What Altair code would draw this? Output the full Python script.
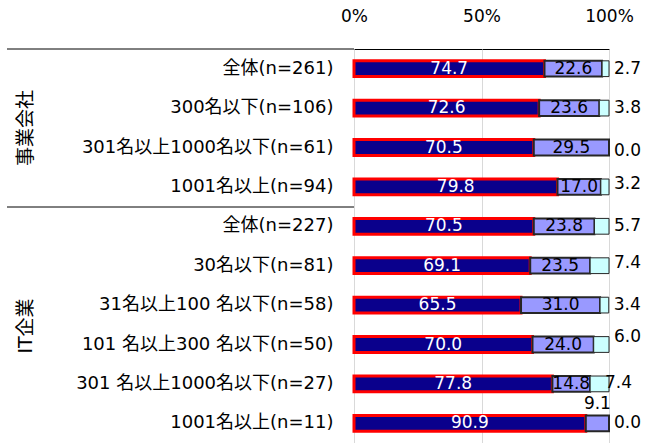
import altair as alt
import pandas as pd

# ---- data ----
rows = [
    "全体(n=261)",
    "300名以下(n=106)",
    "301名以上1000名以下(n=61)",
    "1001名以上(n=94)",
    "全体(n=227)",
    "30名以下(n=81)",
    "31名以上100 名以下(n=58)",
    "101 名以上300 名以下(n=50)",
    "301 名以上1000名以下(n=27)",
    "1001名以上(n=11)",
]
v1 = [74.7, 72.6, 70.5, 79.8, 70.5, 69.1, 65.5, 70.0, 77.8, 90.9]
v2 = [22.6, 23.6, 29.5, 17.0, 23.8, 23.5, 31.0, 24.0, 14.8, 9.1]
v3 = [2.7, 3.8, 0.0, 3.2, 5.7, 7.4, 3.4, 6.0, 7.4, 0.0]
groups = ["事業会社", "IT企業"]
ticks = [0, 50, 100]
series = ["s1", "s2", "s3"]

# ---- styling ----
FONT = "DejaVu Sans, Noto Sans CJK JP, sans-serif"
fill_colors = ["#0a008c", "#9999ff", "#ccffff"]
stroke_colors = ["#ff0000", "#262626", "#262626"]
stroke_widths = [3, 1, 1]
# label nudges (row index, series) -> (dx, dy) in px
nudges = {
    (2, "s3"): (0, 3),
    (3, "s3"): (0, -3),
    (5, "s3"): (0, -3),
    (7, "s3"): (0, -8),
    (8, "s3"): (-9, -1),
    (9, "s2"): (0, -19),
}

recs = []
for i, r in enumerate(rows):
    start = 0.0
    for s, vals in zip(series, [v1, v2, v3]):
        v = vals[i]
        nx, ny = nudges.get((i, s), (0, 0))
        recs.append(dict(row=r, series=s, start=start, end=start + v,
                         mid=start + v / 2, label=f"{v:.1f}", nx=nx, ny=ny))
        start += v
df = pd.DataFrame(recs)

W, H = 255, 394
xscale = alt.Scale(domain=[0, 100], nice=False, zero=True)
yenc = alt.Y("row:N", sort=rows,
             scale=alt.Scale(paddingInner=0.6, paddingOuter=0.3),
             axis=alt.Axis(title=None, ticks=False, domain=False,
                           labelFontSize=18, labelFont=FONT, labelColor="black",
                           labelPadding=21, labelLimit=0))

bars = alt.Chart(df).mark_bar().encode(
    y=yenc,
    x=alt.X("start:Q", scale=xscale,
            axis=alt.Axis(orient="top", values=ticks, title=None,
                          labelExpr="datum.value + '%'", grid=True,
                          gridColor="#d9d9d9", ticks=False, domain=False,
                          labelFontSize=17, labelFont=FONT, labelColor="black",
                          labelPadding=24, labelFlush=False)),
    x2="end:Q",
    color=alt.Color("series:N", scale=alt.Scale(domain=series, range=fill_colors), legend=None),
    stroke=alt.Stroke("series:N", scale=alt.Scale(domain=series, range=stroke_colors), legend=None),
    strokeWidth=alt.StrokeWidth("series:N", scale=alt.Scale(domain=series, range=stroke_widths), legend=None),
)

layers = [bars]
for (nx, ny), sub in df.groupby(["nx", "ny"]):
    s1 = sub[sub.series == "s1"]
    s2 = sub[sub.series == "s2"]
    s3 = sub[sub.series == "s3"]
    if len(s1):
        layers.append(alt.Chart(s1).mark_text(color="white", fontSize=17, font=FONT,
                                              baseline="middle", dx=int(nx), dy=int(ny)).encode(
            y=alt.Y("row:N", sort=rows), x=alt.X("mid:Q", scale=xscale), text="label:N"))
    if len(s2):
        layers.append(alt.Chart(s2).mark_text(color="black", fontSize=17, font=FONT,
                                              baseline="middle", dx=int(nx), dy=int(ny)).encode(
            y=alt.Y("row:N", sort=rows), x=alt.X("mid:Q", scale=xscale), text="label:N"))
    if len(s3):
        layers.append(alt.Chart(s3).mark_text(color="black", fontSize=17, font=FONT,
                                              align="left", baseline="middle",
                                              dx=5 + int(nx), dy=int(ny)).encode(
            y=alt.Y("row:N", sort=rows), x=alt.X("end:Q", scale=xscale), text="label:N"))

# group labels and separators at the left
gdf = pd.DataFrame({"g": groups})
g1 = alt.Chart(gdf.iloc[[0]]).mark_text(angle=270, fontSize=19, font=FONT, color="black",
                                        baseline="middle").encode(
    text="g:N", x=alt.value(-328), y=alt.value(79))
g2 = alt.Chart(gdf.iloc[[1]]).mark_text(angle=270, fontSize=19, font=FONT, color="black",
                                        baseline="middle").encode(
    text="g:N", x=alt.value(-328), y=alt.value(277))
r1 = alt.Chart(gdf.iloc[[0]]).mark_rule(color="black", strokeWidth=1).encode(
    x=alt.value(-347), x2=alt.value(0), y=alt.value(0))
r2 = alt.Chart(gdf.iloc[[0]]).mark_rule(color="black", strokeWidth=1).encode(
    x=alt.value(-347), x2=alt.value(0), y=alt.value(158))
layers += [g1, g2, r1, r2]

chart = alt.layer(*layers).properties(
    width=W, height=H,
    autosize=alt.AutoSizeParams(type="none"),
    padding={"left": 354, "top": 49, "right": 36, "bottom": 0},
    background="white",
).configure_view(stroke="black", strokeWidth=1)

chart.save("out.html", embed_options={"renderer": "svg", "actions": False})
